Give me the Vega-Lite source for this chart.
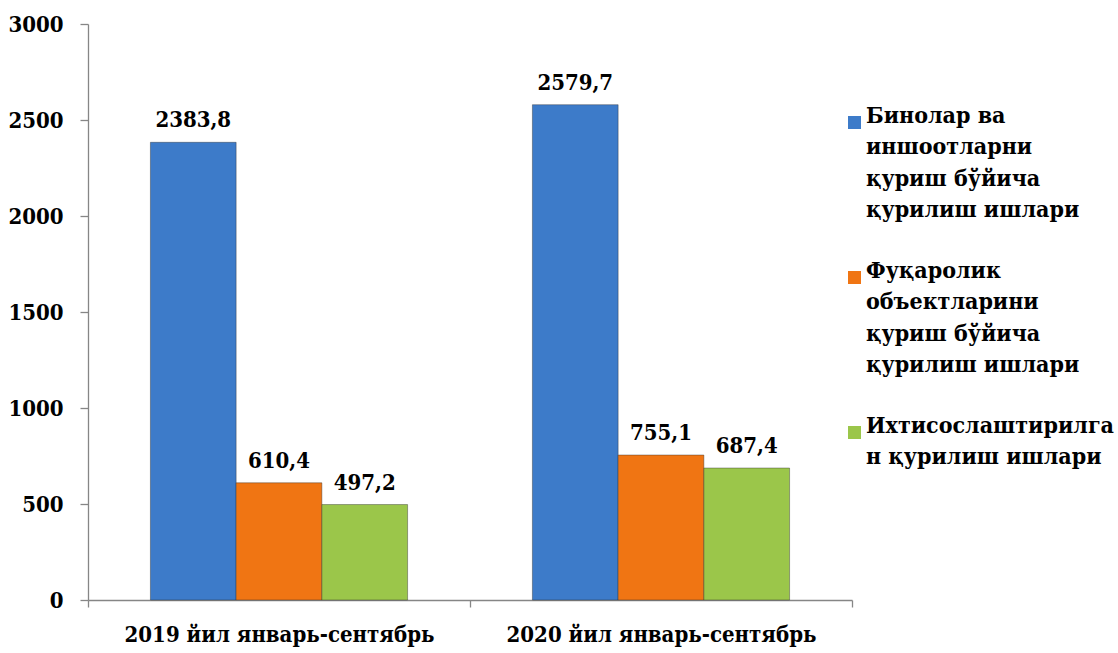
{
  "$schema": "https://vega.github.io/schema/vega-lite/v6.json",
  "autosize": {"type": "none"},
  "width": 764,
  "height": 576,
  "padding": {"left": 88, "top": 24, "right": 266, "bottom": 53},
  "background": "white",
  "config": {
    "view": {"stroke": null},
    "font": "DejaVu Serif Condensed",
    "style": {"guide-label": {"lineHeight": 31.5}},
    "locale": {"number": {"decimal": ",", "thousands": "", "grouping": [3], "currency": ["", ""]}}
  },
  "data": {
    "values": [
      {"period": "2019 йил январь-сентябрь", "type": "Бинолар ва|иншоотларни|қуриш бўйича|қурилиш ишлари", "order": 1, "value": 2383.8},
      {"period": "2019 йил январь-сентябрь", "type": "Фуқаролик|объектларини|қуриш бўйича|қурилиш ишлари", "order": 2, "value": 610.4},
      {"period": "2019 йил январь-сентябрь", "type": "Ихтисослаштирилга|н қурилиш ишлари", "order": 3, "value": 497.2},
      {"period": "2020 йил январь-сентябрь", "type": "Бинолар ва|иншоотларни|қуриш бўйича|қурилиш ишлари", "order": 1, "value": 2579.7},
      {"period": "2020 йил январь-сентябрь", "type": "Фуқаролик|объектларини|қуриш бўйича|қурилиш ишлари", "order": 2, "value": 755.1},
      {"period": "2020 йил январь-сентябрь", "type": "Ихтисослаштирилга|н қурилиш ишлари", "order": 3, "value": 687.4}
    ]
  },
  "encoding": {
    "x": {
      "field": "period", "type": "nominal", "title": null,
      "scale": {"paddingInner": 0, "paddingOuter": 0},
      "axis": {
        "labelAngle": 0, "labelFont": "DejaVu Serif Condensed", "labelFontSize": 22, "labelFontWeight": "bold", "labelColor": "black",
        "labelPadding": 17, "labelLimit": 600, "tickBand": "extent", "tickSize": 7, "tickColor": "#868686",
        "domainColor": "#868686", "domainWidth": 1.3, "tickWidth": 1.3
      }
    },
    "xOffset": {"field": "order", "type": "ordinal", "scale": {"paddingInner": 0, "paddingOuter": 0.728}},
    "y": {
      "field": "value", "type": "quantitative", "title": null,
      "scale": {"domain": [0, 3000]},
      "axis": {
        "values": [0, 500, 1000, 1500, 2000, 2500, 3000], "grid": false,
        "labelFont": "DejaVu Serif Condensed", "labelFontSize": 22, "labelFontWeight": "bold", "labelColor": "black",
        "labelPadding": 17, "tickSize": 8, "tickColor": "#868686",
        "domainColor": "#868686", "domainWidth": 1.3, "tickWidth": 1.3
      }
    }
  },
  "layer": [
    {
      "mark": {"type": "bar", "strokeWidth": 1, "stroke": "#2a2a2a", "strokeOpacity": 0.4},
      "encoding": {
        "color": {
          "field": "type", "type": "nominal", "title": null,
          "sort": ["Бинолар ва|иншоотларни|қуриш бўйича|қурилиш ишлари", "Фуқаролик|объектларини|қуриш бўйича|қурилиш ишлари", "Ихтисослаштирилга|н қурилиш ишлари"],
          "scale": {
            "domain": ["Бинолар ва|иншоотларни|қуриш бўйича|қурилиш ишлари", "Фуқаролик|объектларини|қуриш бўйича|қурилиш ишлари", "Ихтисослаштирилга|н қурилиш ишлари"],
            "range": ["#3d7bc9", "#f07513", "#9bc64a"]
          },
          "legend": {
            "orient": "none", "legendX": 755, "legendY": 87,
            "symbolType": "square", "symbolSize": 169, "symbolStrokeWidth": 0,
            "labelFont": "DejaVu Serif Condensed", "labelFontSize": 23, "labelFontWeight": "bold", "labelColor": "black",
            "labelLimit": 400, "labelOffset": 0, "rowPadding": 37,
            "labelExpr": "split(datum.label, '|')",
            "labelBaseline": "alphabetic"
          }
        }
      }
    },
    {
      "mark": {"type": "text", "dy": -22, "font": "DejaVu Serif Condensed", "fontSize": 22, "fontWeight": "bold", "color": "black"},
      "encoding": {
        "text": {"field": "value", "type": "quantitative", "format": ".1f"}
      }
    }
  ]
}
